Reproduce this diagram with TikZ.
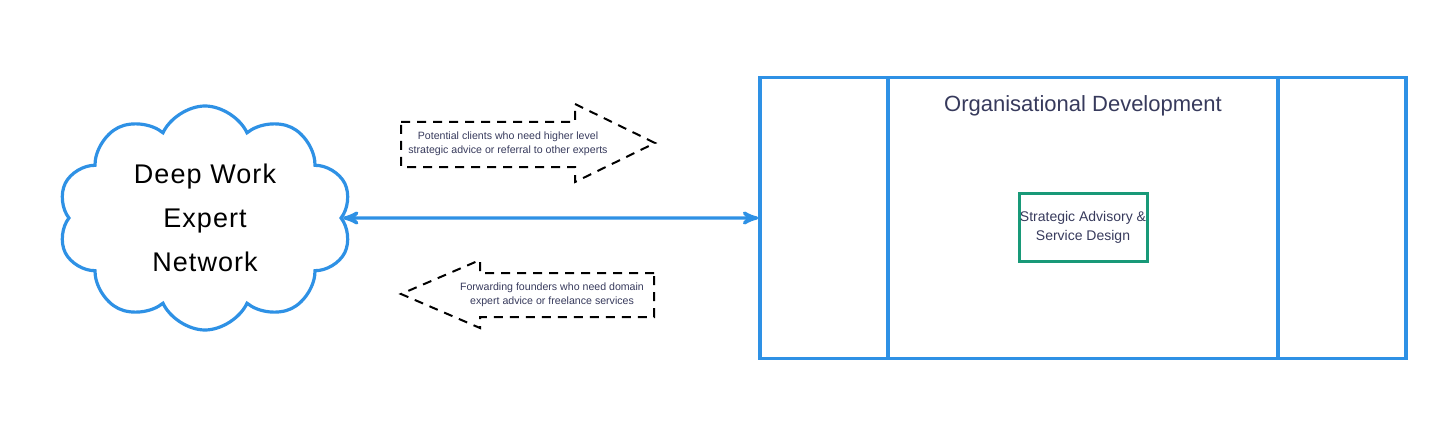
\documentclass[tikz,border=0pt]{standalone}
\usepackage{fontspec}
\setmainfont{Liberation Sans}
\newfontfamily\cloudfont[LetterSpace=4]{Liberation Sans}
\usepackage{tikz}
\usetikzlibrary{arrows,shapes.symbols}

\definecolor{netblue}{RGB}{46,145,229}
\definecolor{textnavy}{RGB}{55,58,92}
\definecolor{advgreen}{RGB}{24,153,120}

\begin{document}
\begin{tikzpicture}[x=0.5pt,y=-0.5pt,>=stealth',
  cloud node/.style={cloud,draw=netblue,line width=1.6pt,cloud puffs=10,
    cloud puff arc=130,aspect=1.3,minimum width=147pt,minimum height=112pt,
    inner sep=0pt,align=center,font=\cloudfont\fontsize{13.5}{22}\selectfont},
  col node/.style={rectangle,draw=netblue,line width=1.75pt,
    minimum height=140.5pt,inner sep=0pt},
  flow text/.style={align=center,text=textnavy,font=\fontsize{5.3}{7}\selectfont},
  flow arrow/.style={draw=black,line width=1pt,dash pattern=on 4.5pt off 3.5pt}]

  \useasboundingbox (0,0) rectangle (1456,433);

  \node[cloud node] (net) at (205,218) {Deep Work\\Expert\\Network};

  \node[col node,minimum width=64pt] (left) at (824,218) {};
  \node[col node,minimum width=195pt] (mid) at (1083,218) {};
  \node[col node,minimum width=64pt] (right) at (1342,218) {};

  \node[text=textnavy,font=\fontsize{11}{13}\selectfont] (title) at (1083,106)
    {Organisational Development};
  \node[draw=advgreen,line width=1.5pt,minimum width=64pt,minimum height=34pt,
    inner sep=0pt,align=center,text=textnavy,font=\fontsize{7}{9.5}\selectfont]
    (advice) at (1083,227) {Strategic Advisory \&\\Service Design};

  \draw[<->,draw=netblue,line width=1.6pt] (net) -- (left);

  \node[flow text] (upper) at (508,144)
    {Potential clients who need higher level\\strategic advice or referral to other experts};
  \node[flow text] (lower) at (552,295)
    {Forwarding founders who need domain\\expert advice or freelance services};

  % dashed arrow outlines
  \draw[flow arrow] (401,122) -- (575,122) -- (575,104) -- (655,143)
    -- (575,182) -- (575,167) -- (401,167) -- cycle;
  \draw[flow arrow] (654,273) -- (480,273) -- (480,260) -- (401,294)
    -- (480,328) -- (480,317) -- (654,317) -- cycle;

\end{tikzpicture}
\end{document}
